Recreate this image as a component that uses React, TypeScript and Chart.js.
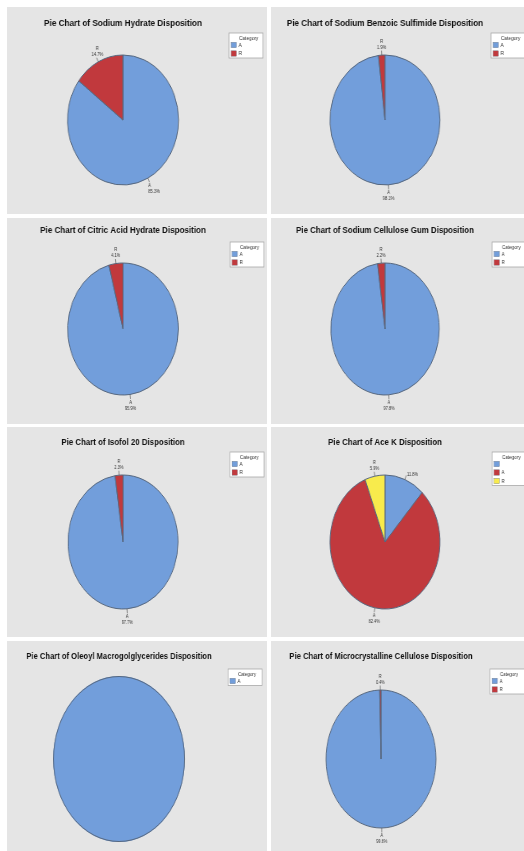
import React, { useEffect, useRef } from "react";
import { Chart, registerables } from "chart.js";

Chart.register(...registerables);

// ---------------- data ----------------
const sodiumHydrateCategories = ["A", "R"];
const sodiumHydratePercents = [85.3, 14.7];

const benzoicSulfimideCategories = ["A", "R"];
const benzoicSulfimidePercents = [98.1, 1.9];

const citricAcidCategories = ["A", "R"];
const citricAcidPercents = [95.9, 4.1];

const celluloseGumCategories = ["A", "R"];
const celluloseGumPercents = [97.8, 2.2];

const isofolCategories = ["A", "R"];
const isofolPercents = [97.7, 2.3];

const aceKCategories = ["", "A", "R"];
const aceKPercents = [11.8, 82.4, 5.9];

const oleoylCategories = ["A"];
const oleoylPercents = [100];

const microcrystallineCategories = ["A", "R"];
const microcrystallinePercents = [99.6, 0.4];

const chartTitles = [
  "Pie Chart of Sodium Hydrate Disposition",
  "Pie Chart of Sodium Benzoic Sulfimide Disposition",
  "Pie Chart of Citric Acid Hydrate Disposition",
  "Pie Chart of Sodium Cellulose Gum Disposition",
  "Pie Chart of Isofol 20 Disposition",
  "Pie Chart of Ace K Disposition",
  "Pie Chart of Oleoyl Macrogolglycerides Disposition",
  "Pie Chart of Microcrystalline Cellulose Disposition",
];

const legendTitle = "Category";
const categoryColors = ["#729edb", "#c1393d", "#f8eb4c"];

// ---------------- layout (positions only) ----------------
type PanelCfg = {
  x: number; y: number; w: number; h: number;
  cx: number; cy: number; rx: number; ry: number;
  ty: number; legX: number; legY: number;
  title: string; cats: string[]; vals: number[]; showLabels: boolean;
};

const panels: PanelCfg[] = [
  { x: 7, y: 7, w: 260, h: 207, cx: 116, cy: 113, rx: 55.5, ry: 65, ty: 16, legX: 222, legY: 26,
    title: chartTitles[0], cats: sodiumHydrateCategories, vals: sodiumHydratePercents, showLabels: true },
  { x: 271, y: 7, w: 253, h: 207, cx: 114, cy: 113, rx: 55, ry: 65, ty: 16, legX: 220, legY: 26,
    title: chartTitles[1], cats: benzoicSulfimideCategories, vals: benzoicSulfimidePercents, showLabels: true },
  { x: 7, y: 218, w: 260, h: 206, cx: 116, cy: 111, rx: 55.3, ry: 66, ty: 12, legX: 223, legY: 24,
    title: chartTitles[2], cats: citricAcidCategories, vals: citricAcidPercents, showLabels: true },
  { x: 271, y: 218, w: 253, h: 206, cx: 114, cy: 111, rx: 54.2, ry: 66, ty: 12, legX: 221, legY: 24,
    title: chartTitles[3], cats: celluloseGumCategories, vals: celluloseGumPercents, showLabels: true },
  { x: 7, y: 427, w: 260, h: 210, cx: 116, cy: 115, rx: 55, ry: 67, ty: 15, legX: 223, legY: 25,
    title: chartTitles[4], cats: isofolCategories, vals: isofolPercents, showLabels: true },
  { x: 271, y: 427, w: 253, h: 210, cx: 114, cy: 115, rx: 55, ry: 67, ty: 15, legX: 221, legY: 25,
    title: chartTitles[5], cats: aceKCategories, vals: aceKPercents, showLabels: true },
  { x: 7, y: 641, w: 260, h: 210, cx: 112, cy: 118, rx: 65.5, ry: 82.5, ty: 15, legX: 221, legY: 28,
    title: chartTitles[6], cats: oleoylCategories, vals: oleoylPercents, showLabels: false },
  { x: 271, y: 641, w: 253, h: 210, cx: 110, cy: 118, rx: 55, ry: 69, ty: 15, legX: 219, legY: 28,
    title: chartTitles[7], cats: microcrystallineCategories, vals: microcrystallinePercents, showLabels: true },
];

const FONT = "'Liberation Sans', Arial, sans-serif";
const TITLE_SIZE = 9.6;
const BW = 1;
const EDGE = "#56677e";

function PiePanel({ cfg }: { cfg: PanelCfg }) {
  const ref = useRef<HTMLCanvasElement | null>(null);
  const sx = cfg.rx / cfg.ry;
  const cw = Math.round(cfg.w / sx);
  const ux = cfg.cx / sx;
  const r = cfg.ry;
  const single = cfg.vals.length === 1;
  const bw = single ? 0 : BW;

  useEffect(() => {
    const canvas = ref.current;
    if (!canvas) return;
    const decor = {
      id: "pieDecor",
      afterDatasetsDraw(chart: any) {
        const ctx = chart.ctx as CanvasRenderingContext2D;
        const meta = chart.getDatasetMeta(0);
        if (single && meta.data.length) {
          const p = meta.data[0].getProps(["x", "y", "outerRadius"], true);
          ctx.save();
          ctx.strokeStyle = EDGE;
          ctx.lineWidth = BW;
          ctx.beginPath();
          ctx.arc(p.x, p.y, p.outerRadius - 0.5, 0, Math.PI * 2);
          ctx.stroke();
          ctx.restore();
        }
      },
      afterDraw(chart: any) {
        const ctx = chart.ctx as CanvasRenderingContext2D;
        const meta = chart.getDatasetMeta(0);
        ctx.save();
        // title
        ctx.fillStyle = "#111";
        ctx.font = `bold ${TITLE_SIZE}px ${FONT}`;
        ctx.textAlign = "center";
        ctx.textBaseline = "middle";
        const ca = chart.chartArea;
        ctx.fillText(cfg.title, (ca.left + ca.right) / 2, cfg.ty);
        // slice labels
        if (cfg.showLabels) {
          meta.data.forEach((arc: any, i: number) => {
            const p = arc.getProps(["x", "y", "startAngle", "endAngle", "outerRadius"], true);
            const mid = (p.startAngle + p.endAngle) / 2;
            const dx = Math.cos(mid);
            const dy = Math.sin(mid);
            const px = p.x + dx * p.outerRadius;
            const py = p.y + dy * p.outerRadius;
            const ex = px + dx * 4.5;
            const ey = py + dy * 4.5;
            ctx.strokeStyle = "#555";
            ctx.lineWidth = 0.7;
            ctx.beginPath();
            ctx.moveTo(px, py);
            ctx.lineTo(ex, ey);
            ctx.stroke();
            const name = cfg.cats[i];
            const pct = cfg.vals[i].toFixed(1) + "%";
            ctx.fillStyle = "#333";
            ctx.font = `4.8px ${FONT}`;
            ctx.textBaseline = "middle";
            const lines = name ? [name, pct] : [pct];
            if (dy < 0) {
              if (!name && Math.abs(dx) >= 0.3) {
                ctx.textAlign = dx > 0 ? "left" : "right";
                ctx.fillText(pct, ex + (dx > 0 ? 1 : -1), ey - 0.5);
              } else {
                ctx.textAlign = "center";
                const start = ey - 3.3 - (lines.length - 1) * 6;
                lines.forEach((t, k) => ctx.fillText(t, ex - dx * 2, start + k * 6));
              }
            } else {
              if (Math.abs(dx) >= 0.3) {
                ctx.textAlign = dx > 0 ? "left" : "right";
                lines.forEach((t, k) => ctx.fillText(t, ex - (dx > 0 ? 1.5 : -1.5), ey + 3.3 + k * 6));
              } else {
                ctx.textAlign = "center";
                lines.forEach((t, k) => ctx.fillText(t, ex, ey + 3.3 + k * 6));
              }
            }
          });
        }
        // legend box
        const n = cfg.cats.length;
        const bx = cfg.legX / sx;
        const by = cfg.legY;
        const bwid = 34 / sx;
        const bh = 8 + 8.5 * n;
        ctx.fillStyle = "#ffffff";
        ctx.fillRect(bx, by, bwid, bh);
        ctx.strokeStyle = "#a9a9a9";
        ctx.lineWidth = 0.8;
        ctx.strokeRect(bx, by, bwid, bh);
        ctx.fillStyle = "#333";
        ctx.font = `5.6px ${FONT}`;
        ctx.textAlign = "left";
        ctx.textBaseline = "middle";
        ctx.fillText(legendTitle, bx + 10 / sx, by + 5);
        cfg.cats.forEach((c, k) => {
          const yy = by + 12 + 8.5 * k;
          ctx.fillStyle = categoryColors[k];
          ctx.fillRect(bx + 2 / sx, yy - 2.7, 5.4 / sx, 5.4);
          ctx.strokeStyle = "#6b7480";
          ctx.lineWidth = 0.4;
          ctx.strokeRect(bx + 2 / sx, yy - 2.7, 5.4 / sx, 5.4);
          ctx.fillStyle = "#333";
          ctx.fillText(c, bx + 9.5 / sx, yy + 0.3);
        });
        ctx.restore();
      },
    };

    const chart = new Chart(canvas, {
      type: "pie",
      data: {
        labels: cfg.cats,
        datasets: [
          {
            data: cfg.vals,
            backgroundColor: cfg.cats.map((_, i) => categoryColors[i]),
            borderColor: EDGE,
            borderWidth: bw,
          },
        ],
      },
      options: {
        responsive: false,
        animation: false,
        events: [],
        layout: {
          padding: {
            left: ux - r - BW / 2,
            right: cw - (ux + r + BW / 2),
            top: cfg.cy - r - BW / 2,
            bottom: cfg.h - (cfg.cy + r + BW / 2),
          },
        },
        plugins: {
          legend: { display: false },
          tooltip: { enabled: false },
          title: { display: false },
        },
      },
      plugins: [decor],
    } as any);
    return () => chart.destroy();
  }, []);

  return (
    <div
      style={{
        position: "absolute",
        left: cfg.x,
        top: cfg.y,
        width: cfg.w,
        height: cfg.h,
        background: "#e5e5e5",
        overflow: "hidden",
      }}
    >
      <canvas
        ref={ref}
        width={cw}
        height={cfg.h}
        style={{
          position: "absolute",
          left: 0,
          top: 0,
          transform: `scaleX(${sx})`,
          transformOrigin: "0 0",
        }}
      />
    </div>
  );
}

export default function App() {
  return (
    <div
      style={{
        position: "absolute",
        left: 0,
        top: 0,
        width: 524,
        height: 851,
        background: "#ffffff",
        overflow: "hidden",
      }}
    >
      {panels.map((p, i) => (
        <PiePanel key={i} cfg={p} />
      ))}
    </div>
  );
}
